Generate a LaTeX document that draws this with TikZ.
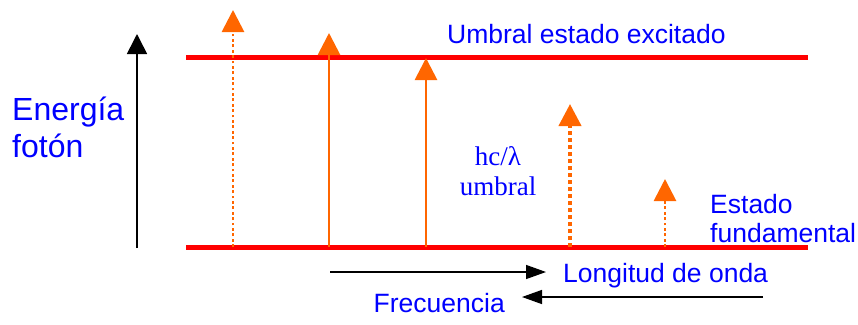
\documentclass[tikz,border=0pt]{standalone}
\usepackage{fontspec}
\setmainfont{Liberation Sans}
\newfontfamily\serifrm{Liberation Serif}
\usetikzlibrary{arrows.meta}
\definecolor{lvred}{RGB}{255,0,0}
\definecolor{phor}{RGB}{255,102,0}
\definecolor{txblue}{RGB}{0,0,255}
\begin{document}
\begin{tikzpicture}[x=1pt,y=-1pt,
  level/.style={draw=lvred,line width=5pt},
  photon/.style={draw=phor,line width=2.8pt,-{Triangle[width=22pt,length=22pt]}},
  photondot/.style={photon,line width=2.8pt,dash pattern=on 2.8pt off 2.6pt},
  photondotthick/.style={photon,line width=4pt,dash pattern=on 4pt off 3pt},
  axisarrow/.style={draw=black,line width=1.6pt,-{Triangle[width=20pt,length=20pt]}},
  lbl/.style={text=txblue,font=\fontsize{26.5}{29}\selectfont,inner sep=0pt},
  lblbig/.style={text=txblue,font=\fontsize{32}{37}\selectfont,inner sep=0pt,align=left},
  lblserif/.style={text=txblue,font=\serifrm\fontsize{27}{30}\selectfont,inner sep=0pt,align=center}]
\useasboundingbox (0,0) rectangle (858,324);
% levels
\coordinate (ex1) at (186,57);
\coordinate (ex2) at (808,57);
\coordinate (gs1) at (186,247);
\coordinate (gs2) at (808,247);
\draw[level] (ex1) -- (ex2);
\draw[level] (gs1) -- (gs2);
% energy axis
\coordinate (axb) at (137,248);
\coordinate (axt) at (137,34);
\draw[axisarrow] (axb) -- (axt);
% photons
\coordinate (p1b) at (233,247); \coordinate (p1t) at (233,10);
\coordinate (p2b) at (329,247); \coordinate (p2t) at (329,33);
\coordinate (p3b) at (426,247); \coordinate (p3t) at (426,58);
\coordinate (p4b) at (570,247); \coordinate (p4t) at (570,104);
\coordinate (p5b) at (665,247); \coordinate (p5t) at (665,179);
\draw[photondot] (p1b) -- (p1t);
\draw[photon] (p2b) -- (p2t);
\draw[photon] (p3b) -- (p3t);
\draw[photondotthick] (p4b) -- (p4t);
\draw[photondot] (p5b) -- (p5t);
% labels
\node[lbl,anchor=west] (ue) at (447,34) {Umbral estado excitado};
\node[lblbig,anchor=west] (ef) at (12,127) {Energía\\fotón};
\node[lblserif] (hc) at (498,171) {hc/λ\\umbral};
\node[lbl,anchor=west,align=left] (ef2) at (710,219) {Estado\\fundamental};
% wavelength / frequency arrows
\coordinate (lw1) at (330,272);
\coordinate (lw2) at (546,272);
\draw[draw=black,line width=1.4pt,-{Triangle[width=14pt,length=20pt]}] (lw1) -- (lw2);
\node[lbl,anchor=west] (lo) at (563,276) {Longitud de onda};
\coordinate (fr1) at (763,297);
\coordinate (fr2) at (522,297);
\draw[draw=black,line width=1.4pt,-{Triangle[width=14pt,length=20pt]}] (fr1) -- (fr2);
\node[lbl,anchor=east] (fq) at (505,303) {Frecuencia};
\end{tikzpicture}
\end{document}
